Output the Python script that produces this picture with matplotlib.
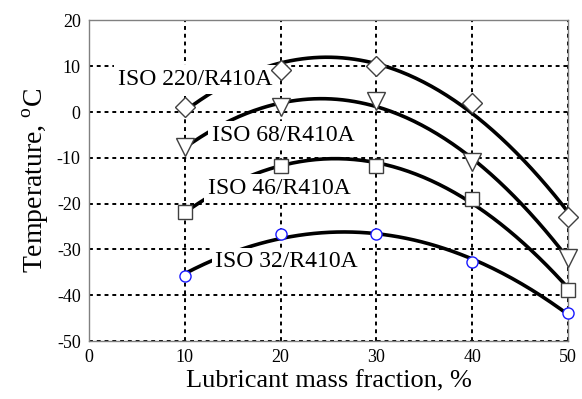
import numpy as np
import matplotlib.pyplot as plt

plt.rcParams['font.family'] = ['Liberation Serif', 'DejaVu Serif']
plt.rcParams['mathtext.fontset'] = 'custom'
plt.rcParams['mathtext.rm'] = 'Liberation Serif'
plt.rcParams['axes.unicode_minus'] = False

# 数据
mass_fraction = [10, 20, 30, 40, 50]
iso220 = [1.1, 9.1, 10.0, 2.0, -22.9]
iso68 = [-7.6, 1.2, 2.3, -10.9, -31.8]
iso46 = [-21.8, -11.8, -11.8, -18.9, -38.8]
iso32 = [-35.7, -26.7, -26.7, -32.8, -43.8]

labels = ['ISO 220/R410A', 'ISO 68/R410A', 'ISO 46/R410A', 'ISO 32/R410A']
label_pos = [(3.0, 7.1), (12.8, -5.1), (12.4, -16.7), (13.2, -32.7)]
series = [iso220, iso68, iso46, iso32]
markers = ['D', 'v', 's', 'o']
msizes = [10, 13, 10, 8]
edges = ['#404040', '#404040', '#404040', '#1a1aff']

fig = plt.figure(figsize=(5.82, 3.99), dpi=100)
ax = fig.add_axes([0.153, 0.145, 0.823, 0.804])

xs = np.linspace(10, 50, 200)
for y, m, ms, ec in zip(series, markers, msizes, edges):
    # 二次趋势线
    coef = np.polyfit(mass_fraction, y, 2)
    ax.plot(xs, np.polyval(coef, xs), color='black', lw=2.6, zorder=3)
    ax.plot(mass_fraction, y, linestyle='none', marker=m, ms=ms,
            mfc='white', mec=ec, mew=1.0, zorder=6, clip_on=False)

for text, (tx, ty) in zip(labels, label_pos):
    ax.text(tx, ty, text, fontsize=17, ha='left', va='center', zorder=5,
            bbox=dict(facecolor='white', edgecolor='none', pad=2.5))

ax.set_xlim(0, 50)
ax.set_ylim(-50, 20)
ax.set_xticks(range(0, 51, 10))
ax.set_yticks(range(-50, 21, 10))
ax.tick_params(length=0, labelsize=13, pad=6)
ax.grid(True, color='black', linestyle=(0, (2, 2)), lw=1.4, zorder=1)
ax.set_axisbelow(True)
for s in ax.spines.values():
    s.set_color('#808080')
    s.set_linewidth(1.0)

ax.set_xlabel('Lubricant mass fraction, %', fontsize=19, labelpad=3)
ax.set_ylabel(r'Temperature, $^{\rm o}$C', fontsize=20, labelpad=4)

fig.savefig('out.png', dpi=100)
